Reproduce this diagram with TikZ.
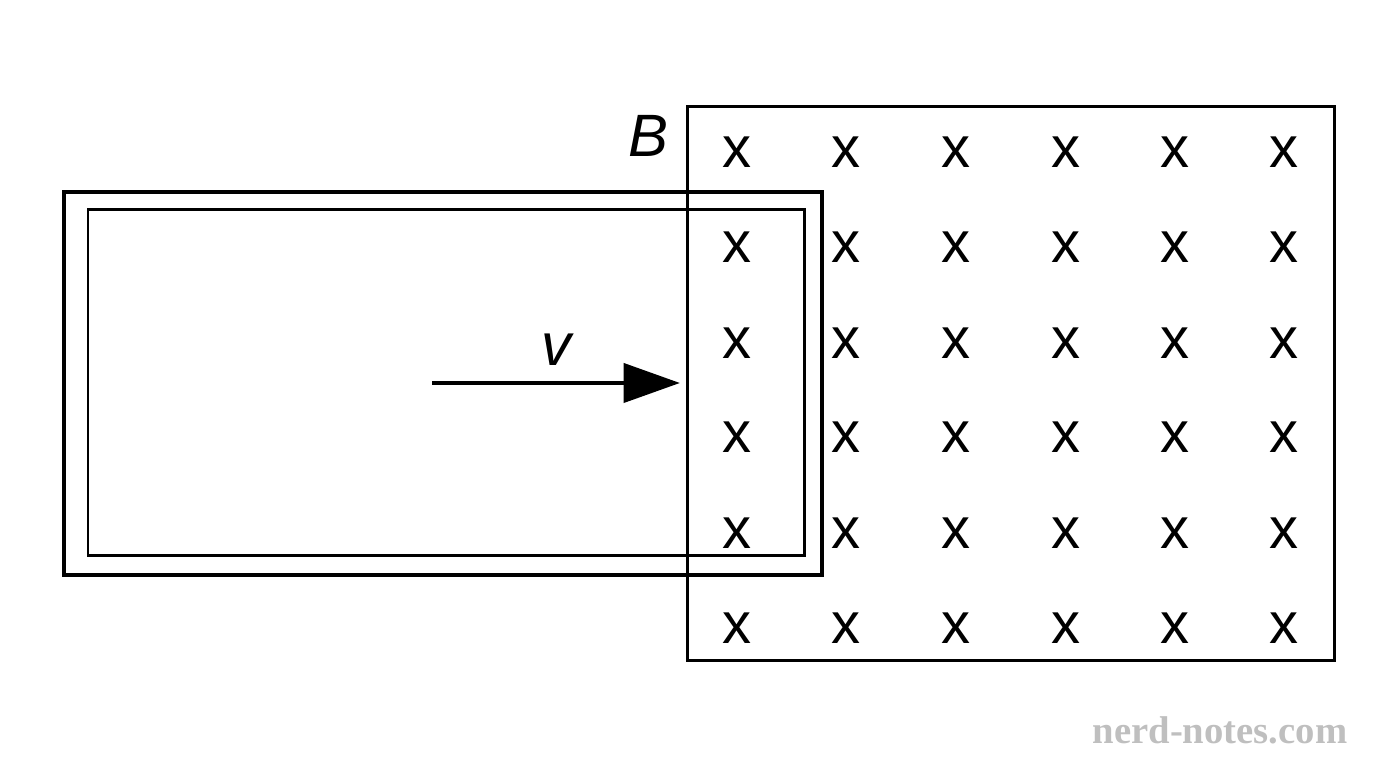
\documentclass[tikz,border=0pt]{standalone}
\usepackage{fontspec}
\setmainfont{Liberation Sans}
\newfontfamily\wmfont{Liberation Serif}
\usetikzlibrary{arrows.meta}
\begin{document}
\begin{tikzpicture}[x=0.01cm, y=-0.01cm,
  field/.style={draw, line width=0.85pt},
  loop/.style={draw, line width=1.4pt},
  cross/.style={font=\fontsize{16.5}{18}\selectfont, inner sep=0pt}]
\useasboundingbox (0,0) rectangle (1376,768);
% magnetic field region
\draw[field] (687,107) rectangle (1334,661);
\foreach \c [count=\i] in {737,846,956,1066,1175,1284}
  \foreach \r [count=\j] in {152,247,343,437,533,628}
    \node[cross] (x\i\j) at (\c,\r) {x};
\node[font=\fontsize{17}{20}\selectfont\itshape] (B) at (648,136) {B};
% conducting loop
\draw[loop] (64,192) rectangle (822,575);
\draw[field] (88,210) rectangle (804,556);
% velocity
\coordinate (vs) at (432,383);
\coordinate (ve) at (680,383);
\draw[line width=1.4pt, -{Triangle[length=16pt,width=11pt]}] (vs) -- (ve);
\node[font=\fontsize{17}{20}\selectfont\itshape] (v) at (556,350) {v};
\node[font=\wmfont\bfseries\fontsize{11}{13}\selectfont, text=black!25] (wm) at (1220,730) {nerd-notes.com};
\end{tikzpicture}
\end{document}
